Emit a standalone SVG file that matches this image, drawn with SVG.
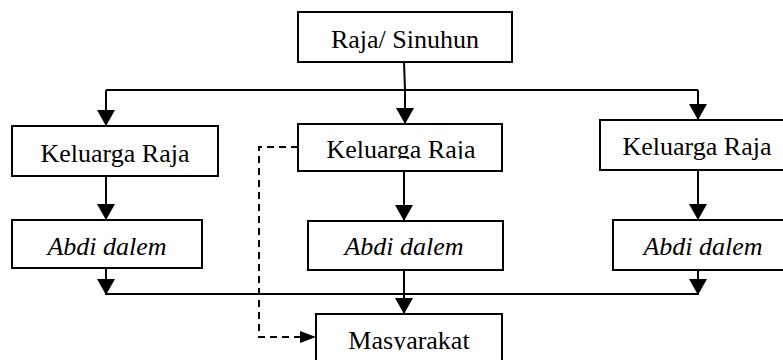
<svg xmlns="http://www.w3.org/2000/svg" width="783" height="360" viewBox="0 0 783 360">
<style>
.box{fill:#fff;stroke:#000;stroke-width:2}
.t{font-family:"Liberation Serif","Times New Roman",serif;font-size:26px;fill:#000;text-anchor:middle}
.i{font-style:italic}
.ln{fill:none;stroke:#000;stroke-width:2}
.dash{fill:none;stroke:#000;stroke-width:2;stroke-dasharray:7,5}
</style>
<defs>
<marker id="ah" viewBox="0 0 16 18" refX="16" refY="9" markerWidth="16" markerHeight="18" markerUnits="userSpaceOnUse" orient="auto">
<path d="M0,0 L16,9 L0,18 z" fill="#000"/>
</marker>
<clipPath id="cm"><rect x="298" y="124" width="205" height="35"/></clipPath>
<clipPath id="cb"><rect x="316" y="314" width="187" height="36"/></clipPath>
</defs>
<rect width="783" height="360" fill="#fff"/>
<g id="connectors">
<path class="ln" d="M404,62 L405,90"/>
<path class="ln" d="M106,90 L698,90"/>
<path class="ln" d="M106,90 L106,126" marker-end="url(#ah)"/>
<path class="ln" d="M405,90 L405,124" marker-end="url(#ah)"/>
<path class="ln" d="M698,90 L698,120" marker-end="url(#ah)"/>
<path class="ln" d="M106,176 L106,220" marker-end="url(#ah)"/>
<path class="ln" d="M404,171 L404,221" marker-end="url(#ah)"/>
<path class="ln" d="M698,170 L698,220" marker-end="url(#ah)"/>
<path class="ln" d="M106,268 L106,295" marker-end="url(#ah)"/>
<path class="ln" d="M698,270 L698,295" marker-end="url(#ah)"/>
<path class="ln" d="M106,294 L698,294"/>
<path class="ln" d="M404,270 L404,314" marker-end="url(#ah)"/>
<path class="dash" d="M298,147 L259,147 L259,337 L302,337"/>
<path d="M300,331 L316,337 L300,343 z" fill="#000"/>
</g>
<g id="raja">
<rect class="box" x="298" y="12" width="214" height="50"/>
<text class="t" x="405" y="48">Raja/ Sinuhun</text>
</g>
<g id="keluarga1">
<rect class="box" x="12" y="126" width="206" height="50"/>
<text class="t" x="115" y="162">Keluarga Raja</text>
</g>
<g id="keluarga2">
<rect class="box" x="298" y="124" width="204" height="47"/>
<text class="t" x="401" y="158" clip-path="url(#cm)">Keluarga Raja</text>
</g>
<g id="keluarga3">
<rect class="box" x="600" y="120" width="200" height="50"/>
<text class="t" x="697" y="155">Keluarga Raja</text>
</g>
<g id="abdi1">
<rect class="box" x="12" y="220" width="190" height="48"/>
<text class="t i" x="107" y="255">Abdi dalem</text>
</g>
<g id="abdi2">
<rect class="box" x="308" y="221" width="195" height="49"/>
<text class="t i" x="404" y="255">Abdi dalem</text>
</g>
<g id="abdi3">
<rect class="box" x="613" y="220" width="190" height="50"/>
<text class="t i" x="703" y="255">Abdi dalem</text>
</g>
<g id="masyarakat">
<rect class="box" x="316" y="314" width="186" height="60"/>
<text class="t" x="409" y="349" clip-path="url(#cb)">Masyarakat</text>
</g>
</svg>
